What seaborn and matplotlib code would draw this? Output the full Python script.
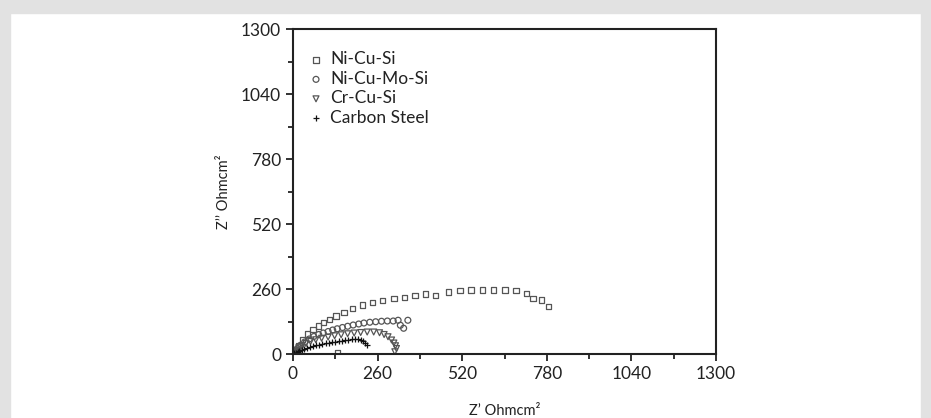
import numpy as np
import pandas as pd
import matplotlib.pyplot as plt
import matplotlib.patches as mpatches
import seaborn as sns

# Nyquist data (Ohm cm^2)
ni_cu_si_x = [136, 8, 18, 30, 45, 62, 78, 93, 112, 132, 157, 182, 214, 245, 276, 310, 342,
              375, 408, 438, 477, 513, 547, 582, 616, 651, 685, 718, 738, 764, 785]
ni_cu_si_y = [4, 14, 35, 58, 80, 99, 112, 125, 139, 152, 165, 181, 196, 205, 213, 221, 227,
              235, 240, 235, 248, 253, 256, 256, 256, 256, 253, 241, 223, 216, 189]

ni_cu_mo_si_x = [6, 14, 24, 36, 50, 64, 79, 93, 108, 122, 136, 152, 168, 185, 202, 218, 236,
                 254, 272, 290, 308, 323, 353, 330, 340]
ni_cu_mo_si_y = [10, 22, 35, 48, 60, 70, 78, 84, 90, 96, 101, 106, 111, 116, 120, 124, 127,
                 129, 131, 132, 132, 135, 135, 115, 103]

cr_cu_si_x = [4, 10, 18, 28, 40, 54, 70, 88, 108, 128, 148, 168, 188, 208, 228, 248, 266,
              280, 292, 303, 310, 315, 318, 313]
cr_cu_si_y = [6, 15, 25, 34, 42, 50, 57, 63, 68, 73, 77, 81, 84, 86, 88, 88, 85,
              78, 69, 56, 44, 33, 22, 9]

steel_x = [3, 8, 14, 20, 27, 35, 43, 51, 60, 70, 80, 90, 100, 110, 120, 130, 140, 150,
           160, 170, 180, 190, 200, 208, 215, 221, 226]
steel_y = [3, 6, 10, 14, 18, 22, 26, 29, 32, 35, 38, 41, 43, 45, 47, 49, 51, 53,
           55, 57, 59, 60, 60, 58, 54, 46, 38]

series = [
    ("Ni-Cu-Si", ni_cu_si_x, ni_cu_si_y, "s", 15),
    ("Ni-Cu-Mo-Si", ni_cu_mo_si_x, ni_cu_mo_si_y, "o", 18),
    ("Cr-Cu-Si", cr_cu_si_x, cr_cu_si_y, "v", 18),
    ("Carbon Steel", steel_x, steel_y, "+", 16),
]

ticks = [0, 260, 520, 780, 1040, 1300]

sns.set_style("white")
plt.rcParams["font.family"] = ["Lato", "DejaVu Sans"]

fig = plt.figure(figsize=(9.31, 4.18), dpi=100)
ax = fig.add_axes([0.3147, 0.1531, 0.4544, 0.7775])

# light grey card frame around the picture
grey = "#e2e2e2"
fig.patches.append(mpatches.Rectangle((0, 0.969), 1, 0.031, transform=fig.transFigure,
                                      color=grey, zorder=0))
fig.patches.append(mpatches.Rectangle((0, 0), 0.0107, 1, transform=fig.transFigure,
                                      color=grey, zorder=0))
fig.patches.append(mpatches.Rectangle((0.9893, 0), 0.0107, 1, transform=fig.transFigure,
                                      color=grey, zorder=0))

for name, xs, ys, mk, sz in series:
    df = pd.DataFrame({"x": xs, "y": ys})
    if mk == "+":
        sns.scatterplot(data=df, x="x", y="y", marker=mk, s=sz, color="#111111",
                        linewidth=0.9, ax=ax, label=name)
    else:
        sns.scatterplot(data=df, x="x", y="y", marker=mk, s=sz, facecolor="none",
                        edgecolor="#555555", linewidth=0.9, ax=ax, label=name)

ax.set_xlim(0, 1300)
ax.set_ylim(0, 1300)
ax.set_xticks(ticks)
ax.set_yticks(ticks)
ax.set_xticks([130, 390, 650, 910, 1170], minor=True)
ax.set_yticks([130, 390, 650, 910, 1170], minor=True)
ax.tick_params(which="major", direction="out", length=5, width=1.3, labelsize=12.5,
               left=True, bottom=True, colors="#222222")
ax.tick_params(which="minor", direction="out", length=3.5, width=1.3,
               left=True, bottom=True, colors="#222222")
for sp in ax.spines.values():
    sp.set_color("#222222")
    sp.set_linewidth(1.5)

ax.set_xlabel("Z\u2019 Ohmcm\u00b2", fontsize=10.5, labelpad=16, color="#222222")
ax.set_ylabel("Z\u2019\u2019 Ohmcm\u00b2", fontsize=10.5, labelpad=7, color="#222222")

leg = ax.legend(loc="upper left", frameon=False, fontsize=12.5, handletextpad=0.4,
                labelspacing=0.2, borderaxespad=0, borderpad=0, handlelength=0.8,
                bbox_to_anchor=(0.038, 0.931))
for t in leg.get_texts():
    t.set_color("#222222")

plt.savefig("out.png", dpi=100)
